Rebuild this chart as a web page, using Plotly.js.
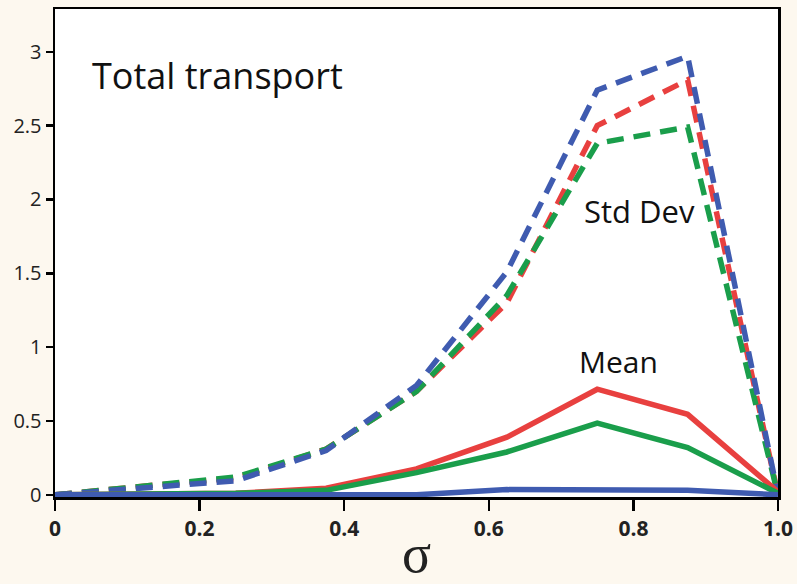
<!DOCTYPE html>
<html>
<head>
<meta charset="utf-8">
<script src="https://cdn.plot.ly/plotly-3.0.1.min.js"></script>
<style>html,body{margin:0;padding:0;background:#fdf8ef;}#chart{width:797px;height:584px;}</style>
</head>
<body>
<div id="chart"></div>
<script>
const sigma = [0, 0.125, 0.25, 0.375, 0.5, 0.625, 0.75, 0.875, 1.0];

const meanRed   = [0, 0.005, 0.01, 0.045, 0.175, 0.39, 0.715, 0.545, 0.02];
const meanGreen = [0, 0.005, 0.01, 0.03, 0.15, 0.29, 0.485, 0.32, 0.01];
const meanBlue  = [0, 0, 0, 0, 0, 0.035, 0.035, 0.03, 0];

const sdRed   = [0, 0.06, 0.11, 0.31, 0.70, 1.30, 2.50, 2.81, 0];
const sdGreen = [0, 0.06, 0.12, 0.31, 0.70, 1.35, 2.38, 2.49, 0];
const sdBlue  = [0, 0.05, 0.095, 0.30, 0.74, 1.51, 2.74, 2.97, 0];

const xTickVals = [0, 0.2, 0.4, 0.6, 0.8, 1.0];
const xTickText = ['0', '0.2', '0.4', '0.6', '0.8', '1.0'];
const yTickVals = [0, 0.5, 1, 1.5, 2, 2.5, 3];
const yTickText = ['0', '0.5', '1', '1.5', '2', '2.5', '3'];

const RED = '#e8403f', GREEN = '#1a9e4b', BLUE = '#3f5bb0';
const W = 5.5;
const DASH = '17px,10px';

function tr(y, color, dash, name) {
  return {x: sigma, y: y, type: 'scatter', mode: 'lines', name: name,
          line: {color: color, width: W, dash: dash}, hoverinfo: 'x+y'};
}

const data = [
  tr(sdRed, RED, DASH, 'Std Dev (red)'),
  tr(sdGreen, GREEN, DASH, 'Std Dev (green)'),
  tr(sdBlue, BLUE, DASH, 'Std Dev (blue)'),
  tr(meanRed, RED, 'solid', 'Mean (red)'),
  tr(meanGreen, GREEN, 'solid', 'Mean (green)'),
  tr(meanBlue, BLUE, 'solid', 'Mean (blue)')
];

const font = 'Open Sans, Noto Sans, sans-serif';

const layout = {
  width: 797, height: 584,
  paper_bgcolor: '#fdf8ef', plot_bgcolor: '#ffffff',
  margin: {l: 55, r: 19, t: 9, b: 87},
  showlegend: false,
  font: {family: font, color: '#111'},
  xaxis: {
    range: [0, 1.0], tickvals: xTickVals, ticktext: xTickText,
    showgrid: false, zeroline: false, showline: true, mirror: true,
    linecolor: '#000', linewidth: 2.5, ticks: 'outside', ticklen: 11, tickwidth: 2.5,
    tickcolor: '#000', tickfont: {family: font, size: 21, color: '#222', weight: 'bold'},
    layer: 'below traces',
    title: {text: 'σ', font: {family: 'Liberation Serif, DejaVu Serif, serif', size: 54, color: '#222'}, standoff: 0}
  },
  yaxis: {
    range: [-0.015, 3.29], tickvals: yTickVals, ticktext: yTickText,
    showgrid: false, zeroline: false, showline: true, mirror: true,
    linecolor: '#000', linewidth: 2.5, ticks: 'outside', ticklen: 7, tickwidth: 2.5,
    tickcolor: '#000', tickfont: {family: font, size: 20, color: '#222'},
    layer: 'below traces'
  },
  annotations: [
    {x: 0.048, y: 2.84, xref: 'x', yref: 'y', text: 'Total transport', showarrow: false,
     xanchor: 'left', yanchor: 'middle', font: {family: font, size: 36, color: '#111'}},
    {x: 0.808, y: 1.92, xref: 'x', yref: 'y', text: 'Std Dev', showarrow: false,
     xanchor: 'center', yanchor: 'middle', font: {family: font, size: 31, color: '#111'}},
    {x: 0.78, y: 0.90, xref: 'x', yref: 'y', text: 'Mean', showarrow: false,
     xanchor: 'center', yanchor: 'middle', font: {family: font, size: 30, color: '#111'}}
  ]
};

Plotly.newPlot('chart', data, layout, {displayModeBar: false, staticPlot: true});
</script>
</body>
</html>
